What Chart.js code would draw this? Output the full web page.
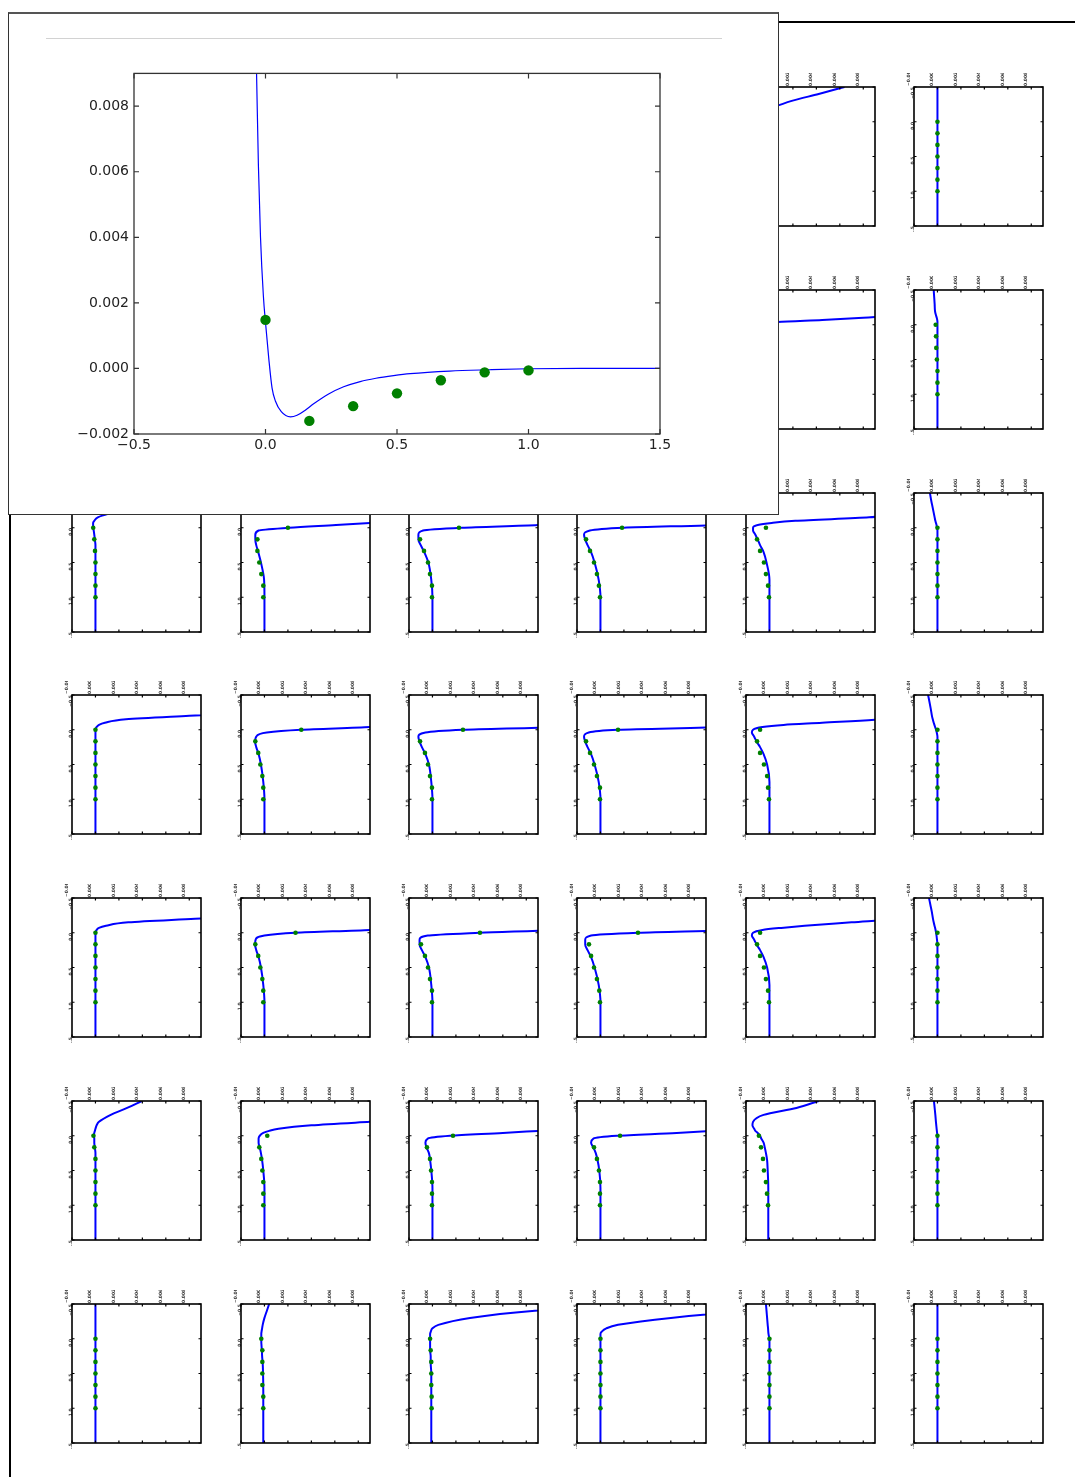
<!DOCTYPE html>
<html><head><meta charset="utf-8">
<script src="https://cdn.jsdelivr.net/npm/chart.js@4.4.1/dist/chart.umd.min.js"></script>
<style>
html,body{margin:0;padding:0;background:#fff;}
body{width:1075px;height:1477px;position:relative;overflow:hidden;font-family:"DejaVu Sans",sans-serif;}
#frame{position:absolute;left:9px;top:21px;width:1200px;height:1600px;border-top:2px solid #000;border-left:2px solid #000;z-index:0;}
#inset{position:absolute;left:8px;top:12px;width:769px;height:500px;background:#fff;border:1px solid #333;border-top:2px solid #555;z-index:5;}
#rule{position:absolute;left:46px;top:38px;width:676px;height:1px;background:#d2d2d2;z-index:7;}
#big{position:absolute;left:60px;top:60px;z-index:7;}
canvas.small{position:absolute;z-index:1;}
</style>
</head><body>
<div id="frame"></div>
<div id="inset"></div>
<div id="rule"></div>
<canvas id="big" width="630" height="400"></canvas>
<script>
// ---------- data ----------
const curveDepths = [-0.5, -0.4, -0.3, -0.2, -0.15, -0.1, -0.07, -0.04, 0, 0.04, 0.1, 0.17, 0.25, 0.35, 0.5, 0.75, 1.0, 1.5];
const dotDepths = [0, 0.1667, 0.3333, 0.5, 0.6667, 0.8333, 1.0];
const smallXTicks = [-0.002, 0, 0.002, 0.004, 0.006, 0.008];
const smallYTicks = [-0.5, 0, 0.5, 1.0, 1.5];
const bigXTicks = [-0.5, 0, 0.5, 1.0, 1.5];
const bigYTicks = [-0.002, 0, 0.002, 0.004, 0.006, 0.008];

const bigCurveX = [-0.1, -0.06, -0.04, -0.034, -0.027, -0.019, -0.008, 0, 0.0125, 0.025, 0.038, 0.06, 0.095, 0.12, 0.15, 0.183, 0.24, 0.297, 0.36, 0.42, 0.487, 0.55, 0.7, 0.85, 1.0, 1.2, 1.5];
const bigCurveY = [0.04, 0.018, 0.0112, 0.009, 0.0062, 0.004, 0.0022, 0.0014, 0.0003, -0.0006, -0.001, -0.00132, -0.00148, -0.00143, -0.00128, -0.00108, -0.00078, -0.00056, -0.0004, -0.0003, -0.00022, -0.00016, -0.00008, -0.00004, -0.00001, 0, 0];
const bigDotsY = [0.00148, -0.0016, -0.00115, -0.00076, -0.00036, -0.00012, -0.00006];

const flatCurve = [0, 0, 0, 0, 0, 0, 0, 0, 0, 0, 0, 0, 0, 0, 0, 0, 0, 0];
const flatDots = [0, 0, 0, 0, 0, 0, 0];

const curve_r1c5 = [0.0064, 0.0042, 0.0019, 0.0002, -0.0005, -0.0009, -0.0011, -0.0013, -0.0014, -0.0014, -0.0013, -0.0011, -0.0008, -0.0005, -0.00025, -0.00005, 0, 0];
const dots_r1c5 = [-0.0008, -0.001, -0.0008, -0.0005, -0.0003, -0.00012, -0.00004];
const curve_r2c5 = [0.05, 0.04, 0.03, 0.02, 0.013, 0.008, 0.0045, 0.0007, -0.0013, -0.0015, -0.0013, -0.0011, -0.0008, -0.0005, -0.00025, -0.00005, 0, 0];
const dots_r2c5 = [-0.001, -0.0011, -0.0008, -0.0005, -0.0003, -0.00012, -0.00004];
const curve_r2c6 = [-0.00032, -0.00028, -0.00024, -0.00021, -0.00015, -0.00006, -0.00002, 0, 0, 0, 0, 0, 0, 0, 0, 0, 0, 0];
const dots_r2c6 = [-0.00015, -0.00012, -0.0001, -0.00005, 0, 0, 0];

const curve_r3c1 = [0.012, 0.008, 0.004, 0.0011, 0.0002, -0.0001, -0.0002, -0.0002, -0.0002, -0.00015, -0.0001, -0.00005, 0, 0, 0, 0, 0, 0];
const dots_r3c1 = [-0.00019, -0.0001, -0.00004, 0, 0, 0, 0];
const curve_r3c2 = [0.05, 0.04, 0.03, 0.02, 0.016, 0.012, 0.009, 0.0061, 0.0021, -0.0005, -0.00078, -0.00078, -0.0007, -0.00053, -0.0003, -0.00003, 0, 0];
const dots_r3c2 = [0.002, -0.0006, -0.0006, -0.00044, -0.00027, -0.0001, -0.0001];
const curve_r3c3 = [0.05, 0.04, 0.03, 0.02, 0.016, 0.013, 0.011, 0.009, 0.0025, -0.0008, -0.0012, -0.0012, -0.001, -0.0007, -0.00035, -0.0001, 0, 0];
const dots_r3c3 = [0.00226, -0.00106, -0.00072, -0.00038, -0.00021, -0.00004, -0.00004];
const curve_r3c4 = [0.05, 0.04, 0.03, 0.02, 0.017, 0.014, 0.012, 0.010, 0.002, -0.0009, -0.0014, -0.0013, -0.0011, -0.0008, -0.0005, -0.00015, 0, 0];
const dots_r3c4 = [0.00184, -0.00123, -0.00089, -0.00055, -0.0003, -0.00013, -0.00004];
const curve_r3c5 = [0.03, 0.02, 0.015, 0.011, 0.0085, 0.0022, 0.0002, -0.001, -0.0014, -0.0014, -0.0012, -0.001, -0.0008, -0.0005, -0.00025, 0, 0, 0];
const dots_r3c5 = [-0.0003, -0.00106, -0.0008, -0.00047, -0.0003, -0.00012, -0.00004];
const curve_r3c6 = [-0.00064, -0.00054, -0.00042, -0.0003, -0.00024, -0.00018, -0.00013, -0.00008, -0.00004, 0, 0, 0, 0, 0, 0, 0, 0, 0];

const curve_r4c1 = [0.04, 0.03, 0.02, 0.008, 0.0026, 0.0008, 0.0003, 0.0001, 0, 0, 0, 0, 0, 0, 0, 0, 0, 0];
const curve_r4c2 = [0.05, 0.04, 0.03, 0.02, 0.016, 0.013, 0.011, 0.009, 0.0031, 0.0002, -0.0007, -0.0008, -0.0007, -0.0005, -0.0003, -0.0001, 0, 0];
const dots_r4c2 = [0.00314, -0.00078, -0.00053, -0.00035, -0.00018, -0.0001, -0.0001];
const curve_r4c3 = [0.05, 0.04, 0.03, 0.02, 0.016, 0.013, 0.0115, 0.0105, 0.0026, -0.0006, -0.0012, -0.0011, -0.0009, -0.0006, -0.0003, -0.0001, 0, 0];
const dots_r4c3 = [0.0026, -0.00106, -0.00064, -0.00038, -0.00021, -0.00004, -0.00004];
const curve_r4c4 = [0.05, 0.04, 0.03, 0.02, 0.017, 0.014, 0.012, 0.0105, 0.0015, -0.001, -0.0014, -0.0013, -0.0011, -0.0008, -0.0005, -0.00015, 0, 0];
const dots_r4c4 = [0.0015, -0.00123, -0.00089, -0.00055, -0.0003, -0.00004, -0.00004];
const curve_r4c5 = [0.03, 0.022, 0.016, 0.012, 0.0096, 0.0045, 0.0012, -0.0006, -0.0014, -0.0015, -0.0013, -0.0011, -0.0008, -0.0005, -0.0002, 0, 0, 0];
const dots_r4c5 = [-0.0008, -0.00106, -0.0008, -0.00047, -0.0002, -0.00012, -0.00004];
const curve_r4c6 = [-0.0008, -0.00068, -0.00057, -0.00047, -0.0004, -0.00032, -0.00026, -0.0002, -0.00012, -0.00006, 0, 0, 0, 0, 0, 0, 0, 0];

const curve_r5c1 = [0.04, 0.03, 0.02, 0.0085, 0.0028, 0.0009, 0.0003, 0.0001, 0, 0, 0, 0, 0, 0, 0, 0, 0, 0];
const curve_r5c2 = [0.05, 0.04, 0.03, 0.02, 0.016, 0.013, 0.011, 0.009, 0.00265, 0, -0.00075, -0.0008, -0.0007, -0.0005, -0.0003, -0.0001, 0, 0];
const dots_r5c2 = [0.00265, -0.00078, -0.00053, -0.00035, -0.00018, -0.0001, -0.0001];
const curve_r5c3 = [0.05, 0.04, 0.03, 0.02, 0.017, 0.014, 0.012, 0.0105, 0.004, -0.0004, -0.0011, -0.0011, -0.0009, -0.0006, -0.0003, -0.0001, 0, 0];
const dots_r5c3 = [0.00405, -0.00098, -0.00064, -0.00038, -0.00021, -0.00004, -0.00004];
const curve_r5c4 = [0.05, 0.04, 0.03, 0.02, 0.018, 0.015, 0.013, 0.0115, 0.0032, -0.0008, -0.0013, -0.0013, -0.0011, -0.0008, -0.0005, -0.00015, 0, 0];
const dots_r5c4 = [0.0032, -0.00098, -0.0008, -0.00055, -0.0003, -0.0001, -0.00004];
const curve_r5c5 = [0.028, 0.02, 0.015, 0.011, 0.007, 0.003, 0.001, -0.0006, -0.0014, -0.0015, -0.0013, -0.0011, -0.0008, -0.0005, -0.0002, 0, 0, 0];
const dots_r5c5 = [-0.0008, -0.00106, -0.0008, -0.00047, -0.0003, -0.00012, -0.00004];
const curve_r5c6 = [-0.00072, -0.0006, -0.00048, -0.00038, -0.00032, -0.00025, -0.0002, -0.00016, -0.00012, -0.00008, -0.00004, 0, 0, 0, 0, 0, 0, 0];

const curve_r6c1 = [0.00395, 0.0027, 0.0013, 0.0003, 0.0001, 0, -0.00005, -0.0001, -0.00015, -0.0001, -0.0001, -0.00005, 0, 0, 0, 0, 0, 0];
const dots_r6c1 = [-0.00017, -0.0001, 0, 0, 0, 0, 0];
const curve_r6c2 = [0.04, 0.03, 0.02, 0.009, 0.004, 0.0012, 0.0004, -0.0001, -0.0004, -0.0005, -0.0005, -0.0004, -0.0003, -0.0002, -0.0001, 0, 0, 0];
const dots_r6c2 = [0.00024, -0.00044, -0.00027, -0.00018, -0.0001, -0.0001, -0.0001];
const curve_r6c3 = [0.05, 0.04, 0.03, 0.02, 0.016, 0.012, 0.009, 0.006, 0.0015, -0.0004, -0.0006, -0.0005, -0.0003, -0.0002, -0.0001, 0, 0, 0];
const dots_r6c3 = [0.00175, -0.00047, -0.00021, -0.00012, -0.00004, -0.00004, -0.00004];
const curve_r6c4 = [0.05, 0.04, 0.03, 0.02, 0.016, 0.012, 0.0095, 0.0065, 0.0014, -0.0006, -0.0008, -0.0006, -0.0004, -0.00025, -0.0001, 0, 0, 0];
const dots_r6c4 = [0.00167, -0.00055, -0.0003, -0.00013, -0.00004, -0.00004, -0.00004];
const curve_r6c5 = [0.0042, 0.0023, -0.0005, -0.0014, -0.00145, -0.0013, -0.0012, -0.001, -0.0008, -0.0007, -0.0005, -0.0004, -0.0003, -0.0002, -0.00015, -0.0001, -0.0001, -0.0001];
const dots_r6c5 = [-0.0009, -0.00072, -0.00055, -0.00047, -0.0003, -0.00021, -0.00012];
const curve_r6c6 = [-0.0003, -0.00024, -0.00018, -0.00013, -0.0001, -0.00007, -0.00005, -0.00003, 0, 0, 0, 0, 0, 0, 0, 0, 0, 0];

const curve_r7c2 = [0.0004, 0.0002, 0, -0.00015, -0.0002, -0.00025, -0.00027, -0.00027, -0.00027, -0.00027, -0.00025, -0.00022, -0.0002, -0.00015, -0.00012, -0.0001, -0.0001, -0.0001];
const dots_r7c2 = [-0.00027, -0.00018, -0.00018, -0.00018, -0.00018, -0.0001, -0.0001];
const curve_r7c3 = [0.018, 0.0085, 0.0032, 0.0005, 0, -0.00015, -0.0002, -0.0002, -0.0002, -0.0002, -0.0002, -0.0002, -0.00015, -0.00015, -0.0001, -0.0001, -0.0001, -0.0001];
const dots_r7c3 = [-0.0002, -0.00015, -0.0001, -0.0001, -0.0001, -0.00007, -0.00007];
const curve_r7c4 = [0.025, 0.013, 0.006, 0.0015, 0.0005, 0.0001, 0, 0, 0, 0, 0, 0, 0, 0, 0, 0, 0, 0];
const curve_r7c5 = [-0.0003, -0.00025, -0.0002, -0.00015, -0.00012, -0.0001, -0.00008, -0.00005, 0, 0, 0, 0, 0, 0, 0, 0, 0, 0];

// layout table: [row, col, curve, dots]
const plots = [
  [0,4,curve_r1c5,dots_r1c5],[0,5,flatCurve,flatDots],
  [1,4,curve_r2c5,dots_r2c5],[1,5,curve_r2c6,dots_r2c6],
  [2,0,curve_r3c1,dots_r3c1],[2,1,curve_r3c2,dots_r3c2],[2,2,curve_r3c3,dots_r3c3],[2,3,curve_r3c4,dots_r3c4],[2,4,curve_r3c5,dots_r3c5],[2,5,curve_r3c6,flatDots],
  [3,0,curve_r4c1,flatDots],[3,1,curve_r4c2,dots_r4c2],[3,2,curve_r4c3,dots_r4c3],[3,3,curve_r4c4,dots_r4c4],[3,4,curve_r4c5,dots_r4c5],[3,5,curve_r4c6,flatDots],
  [4,0,curve_r5c1,flatDots],[4,1,curve_r5c2,dots_r5c2],[4,2,curve_r5c3,dots_r5c3],[4,3,curve_r5c4,dots_r5c4],[4,4,curve_r5c5,dots_r5c5],[4,5,curve_r5c6,flatDots],
  [5,0,curve_r6c1,dots_r6c1],[5,1,curve_r6c2,dots_r6c2],[5,2,curve_r6c3,dots_r6c3],[5,3,curve_r6c4,dots_r6c4],[5,4,curve_r6c5,dots_r6c5],[5,5,curve_r6c6,flatDots],
  [6,0,flatCurve,flatDots],[6,1,curve_r7c2,dots_r7c2],[6,2,curve_r7c3,dots_r7c3],[6,3,curve_r7c4,flatDots],[6,4,curve_r7c5,flatDots],[6,5,flatCurve,flatDots]
];

// ---------- rendering ----------
const GRID_LEFT = 72.3, COL_STEP = 168.3, GRID_TOP = 87, ROW_STEP = 202.8, PW = 129, PH = 139;
const BLUE = '#0000ff', GREEN = '#008000';

const framePlugin = {
  id: 'frame',
  defaults: {color: '#000', width: 1.5, len: 3, tickWidth: 1},
  afterDatasetsDraw(chart, args, o) {
    const {ctx, chartArea: a} = chart;
    const x = chart.scales.x, y = chart.scales.y;
    ctx.save();
    ctx.strokeStyle = o.color;
    ctx.lineWidth = o.tickWidth;
    ctx.beginPath();
    for (const t of x.ticks) {
      const p = x.getPixelForValue(t.value);
      ctx.moveTo(p, a.top); ctx.lineTo(p, a.top + o.len);
      ctx.moveTo(p, a.bottom); ctx.lineTo(p, a.bottom - o.len);
    }
    for (const t of y.ticks) {
      const p = y.getPixelForValue(t.value);
      ctx.moveTo(a.left, p); ctx.lineTo(a.left + o.len, p);
      ctx.moveTo(a.right, p); ctx.lineTo(a.right - o.len, p);
    }
    ctx.stroke();
    ctx.lineWidth = o.width;
    ctx.strokeRect(a.left, a.top, a.right - a.left, a.bottom - a.top);
    ctx.restore();
  }
};
Chart.register(framePlugin);

const fmt = (v, d) => (v < 0 ? '\u2212' : '') + Math.abs(v).toFixed(d);

function smallChart(row, col, curve, dots) {
  const left = Math.round(GRID_LEFT + col * COL_STEP);
  const top = Math.round(GRID_TOP + row * ROW_STEP);
  const LW = 12, TH = 14, RP = 5, BP = 6;
  const W = PW + LW + RP, H = PH + TH + BP;
  const c = document.createElement('canvas');
  c.className = 'small';
  c.width = W; c.height = H;
  c.style.left = (left - LW) + 'px';
  c.style.top = (top - TH) + 'px';
  document.body.appendChild(c);
  const tickFont = {family: 'DejaVu Sans', size: 4.5, weight: 'bold'};
  new Chart(c, {
    type: 'line',
    data: {datasets: [
      {data: curveDepths.map((d, i) => ({x: curve[i], y: d})), borderColor: BLUE, borderWidth: 2,
       pointRadius: 0, cubicInterpolationMode: 'monotone', fill: false, order: 1},
      {data: dotDepths.map((d, i) => ({x: dots[i], y: d})), showLine: false, pointRadius: 2.3,
       pointBackgroundColor: GREEN, pointBorderColor: GREEN, pointBorderWidth: 0, order: 0}
    ]},
    options: {
      indexAxis: 'y', responsive: false, animation: false, events: [],
      layout: {padding: {left: 0, top: 0, right: RP, bottom: BP}},
      plugins: {legend: {display: false}, tooltip: {enabled: false}, frame: {color: '#000', width: 1.6, len: 2.5, tickWidth: 1.2}},
      scales: {
        x: {type: 'linear', position: 'top', min: -0.002, max: 0.009,
            afterBuildTicks: s => { s.ticks = smallXTicks.map(v => ({value: v})); },
            afterFit: s => { s.height = TH; },
            grid: {display: false, drawTicks: false}, border: {display: false},
            ticks: {font: tickFont, color: '#333', minRotation: 90, maxRotation: 90, padding: 1, autoSkip: false,
                    callback: v => fmt(v, 3)}},
        y: {type: 'linear', reverse: true, min: -0.5, max: 1.5,
            afterBuildTicks: s => { s.ticks = smallYTicks.map(v => ({value: v})); },
            afterFit: s => { s.width = LW; },
            grid: {display: false, drawTicks: false}, border: {display: false},
            ticks: {font: tickFont, color: '#333', minRotation: 90, maxRotation: 90, padding: 1, autoSkip: false,
                    callback: v => fmt(v, 1)}}
      }
    }
  });
}

plots.forEach(p => smallChart(p[0], p[1], p[2], p[3]));

new Chart(document.getElementById('big'), {
  type: 'line',
  data: {datasets: [
    {data: bigCurveX.map((x, i) => ({x: x, y: bigCurveY[i]})), borderColor: BLUE, borderWidth: 1.2,
     pointRadius: 0, cubicInterpolationMode: 'monotone', fill: false, order: 1},
    {data: dotDepths.map((x, i) => ({x: x, y: bigDotsY[i]})), showLine: false, pointRadius: 5.2,
     pointBackgroundColor: GREEN, pointBorderColor: GREEN, pointBorderWidth: 0, order: 0}
  ]},
  options: {
    responsive: false, animation: false, events: [],
    layout: {padding: {left: 0, top: 12, right: 30, bottom: 0}},
    plugins: {legend: {display: false}, tooltip: {enabled: false}, frame: {color: '#333', width: 1.3, len: 5, tickWidth: 1.2}},
    scales: {
      x: {type: 'linear', min: -0.5, max: 1.5,
          afterBuildTicks: s => { s.ticks = bigXTicks.map(v => ({value: v})); },
          afterFit: s => { s.height = 26; },
          grid: {display: false, drawTicks: false}, border: {display: false},
          ticks: {font: {family: 'DejaVu Sans', size: 14}, color: '#222', padding: 3, maxRotation: 0, autoSkip: false,
                  callback: v => fmt(v, 1)}},
      y: {type: 'linear', min: -0.002, max: 0.009,
          afterBuildTicks: s => { s.ticks = bigYTicks.map(v => ({value: v})); },
          afterFit: s => { s.width = 74; },
          grid: {display: false, drawTicks: false}, border: {display: false},
          ticks: {font: {family: 'DejaVu Sans', size: 14}, color: '#222', padding: 5, autoSkip: false,
                  callback: v => fmt(v, 3)}}
    }
  }
});
</script>
</body></html>
